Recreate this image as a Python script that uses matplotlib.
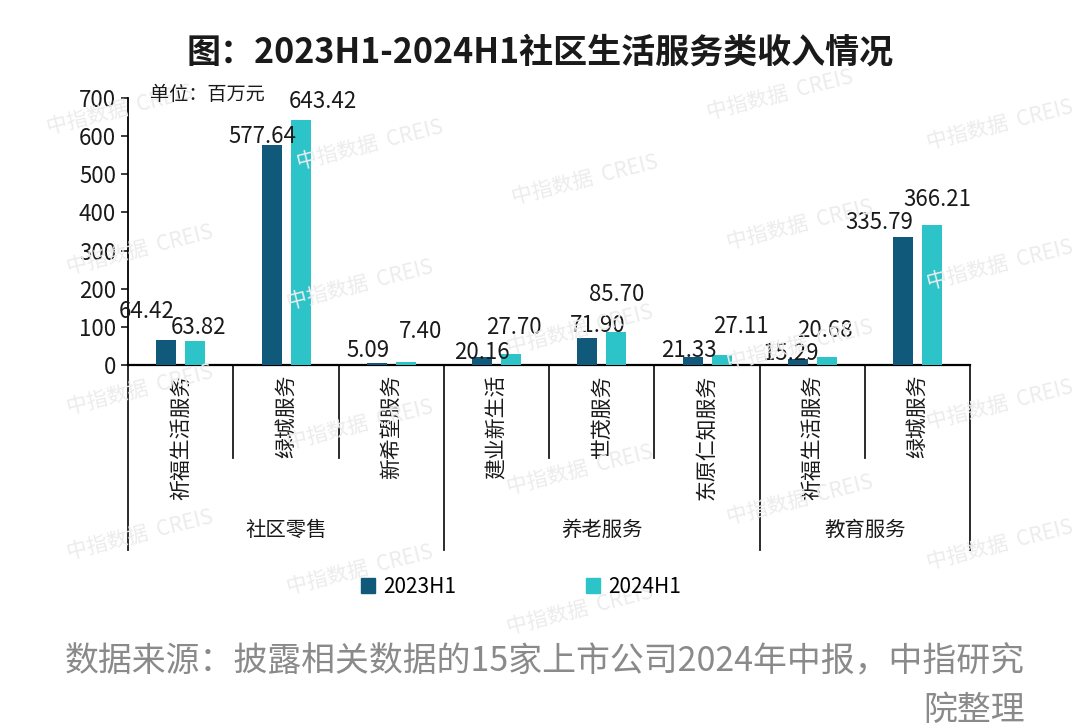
import matplotlib
matplotlib.use("Agg")
import matplotlib.pyplot as plt
from matplotlib.patches import Patch
import matplotlib.transforms as mtransforms

plt.rcParams['font.family'] = ['Noto Sans CJK SC', 'DejaVu Sans']

# data
companies = ['祈福生活服务', '绿城服务', '新希望服务', '建业新生活', '世茂服务',
             '东原仁知服务', '祈福生活服务', '绿城服务']
groups = ['社区零售', '养老服务', '教育服务']
group_spans = [(0, 2), (3, 5), (6, 7)]
h1_2023 = [64.42, 577.64, 5.09, 20.16, 71.90, 21.33, 15.29, 335.79]
h1_2024 = [63.82, 643.42, 7.40, 27.70, 85.70, 27.11, 20.68, 366.21]
series = ['2023H1', '2024H1']

# label nudges (pixels) relative to top of each bar
off_2023 = [(-20, 29), (-9, 8), (-9, 13), (0, 5), (10, 12), (-4, 6), (-7, 6), (-24, 14)]
off_2024 = [(3, 13), (22, 18), (15, 31), (3, 27), (0, 38), (19, 28), (-2, 27), (5, 26)]

DARK = '#11597a'
CYAN = '#2cc4c8'
INK = '#1a1a1a'

fig = plt.figure(figsize=(10.8, 7.28), dpi=100)
ax = fig.add_axes([128 / 1080, 1 - 365 / 728, 842 / 1080, 267 / 728])

# watermarks
wm = [(370, 145), (585, 180), (800, 225), (140, 250), (360, 285), (580, 330),
      (800, 345), (140, 390), (360, 425), (580, 470), (800, 500), (140, 535),
      (360, 570), (780, 95), (1000, 125), (1000, 265), (1000, 405), (1000, 545),
      (580, 610), (120, 110)]
for x, y in wm:
    fig.text(x / 1080, 1 - y / 728, '中指数据  CREIS', fontsize=15, color='#ececec',
             rotation=14, ha='center', va='center', zorder=0)

x = list(range(len(companies)))
w = 0.19
ax.bar([i - 0.135 for i in x], h1_2023, w, color=DARK, zorder=3)
ax.bar([i + 0.14 for i in x], h1_2024, w, color=CYAN, zorder=3)

for i in x:
    ax.annotate(f'{h1_2023[i]:.2f}', (i - 0.135, h1_2023[i]), xytext=off_2023[i],
                textcoords='offset pixels', ha='center', va='center', fontsize=16,
                color=INK, zorder=4)
    ax.annotate(f'{h1_2024[i]:.2f}', (i + 0.14, h1_2024[i]), xytext=off_2024[i],
                textcoords='offset pixels', ha='center', va='center', fontsize=16,
                color=INK, zorder=4)

ax.set_xlim(-0.5, len(companies) - 0.5)
ax.set_ylim(0, 700)
ax.set_yticks(range(0, 701, 100))
ax.tick_params(axis='y', labelsize=16, length=5, width=1.2, colors=INK)
ax.set_xticks([])
for s in ['top', 'right']:
    ax.spines[s].set_visible(False)
ax.spines['left'].set_linewidth(1.3)
ax.spines['bottom'].set_linewidth(1.6)
ax.patch.set_alpha(0)

trans = mtransforms.blended_transform_factory(ax.transData, ax.transAxes)
bounds = [g[0] - 0.5 for g in group_spans] + [group_spans[-1][1] + 0.5]
for k in range(len(companies) + 1):
    xb = k - 0.5
    y_end = -0.693 if xb in bounds else -0.348
    ax.plot([xb, xb], [0, y_end], color=INK, lw=1.3, transform=trans, clip_on=False)

for i, name in enumerate(companies):
    ax.text(i, -0.035, name, transform=trans, rotation=90, ha='center', va='top',
            fontsize=15, color=INK)

for g, (a, b) in zip(groups, group_spans):
    ax.text((a + b) / 2, -0.618, g, transform=trans, ha='center', va='center',
            fontsize=14.7, color=INK)

fig.text(540 / 1080, 1 - 52 / 728, '图：2023H1-2024H1社区生活服务类收入情况',
         ha='center', va='center', fontsize=24.5, fontweight='bold', color=INK)
fig.text(150 / 1080, 1 - 95 / 728, '单位：百万元', ha='left', va='center',
         fontsize=13.8, color=INK)

handles = [Patch(color=DARK), Patch(color=CYAN)]
fig.legend(handles, series, loc='center', bbox_to_anchor=(521 / 1080, 1 - 587 / 728),
           ncol=2, frameon=False, fontsize=15, handlelength=0.7, handleheight=0.7,
           handletextpad=0.4, columnspacing=6.2)

fig.text(1025 / 1080, 1 - 662 / 728, '数据来源：披露相关数据的15家上市公司2024年中报，中指研究',
         ha='right', va='center', fontsize=24.4, color='#8a8a8a')
fig.text(1025 / 1080, 1 - 710 / 728, '院整理', ha='right', va='center',
         fontsize=24.4, color='#8a8a8a')

fig.savefig('out.png', dpi=100, facecolor='white')
